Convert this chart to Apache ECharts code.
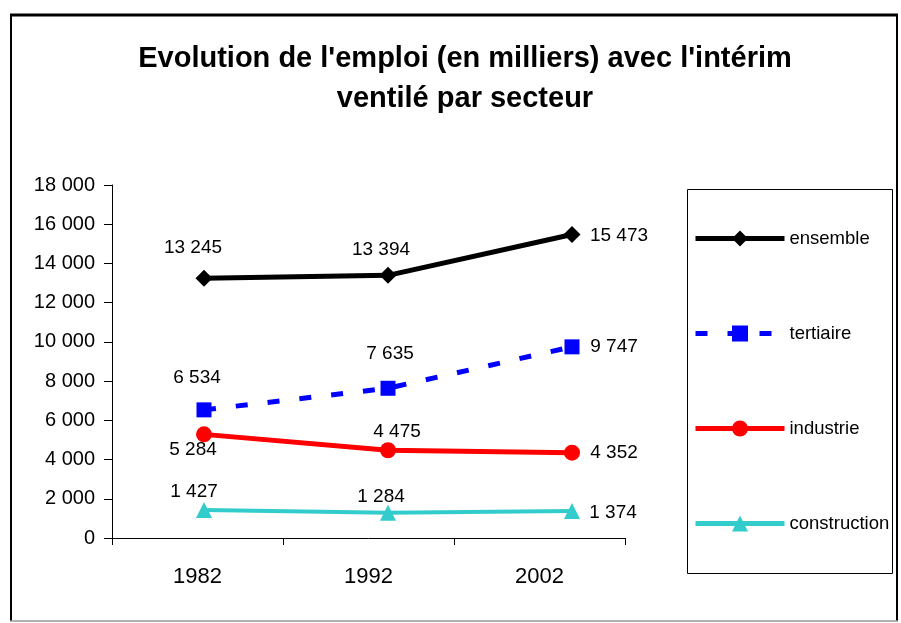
<!DOCTYPE html>
<html>
<head>
<meta charset="utf-8">
<script src="https://cdn.jsdelivr.net/npm/echarts@6/dist/echarts.min.js"></script>
<style>
html,body{margin:0;padding:0;background:#fff;}
#chart{width:901px;height:623px;}
</style>
</head>
<body>
<div id="chart"></div>
<script>
var categories = ['1982', '1992', '2002'];
var ensemble = [13245, 13394, 15473];
var tertiaire = [6534, 7635, 9747];
var industrie = [5284, 4475, 4352];
var construction = [1427, 1284, 1374];
var yTicks = [0, 2000, 4000, 6000, 8000, 10000, 12000, 14000, 16000, 18000];

var SANS = '"Liberation Sans", Arial, sans-serif';

function fmt(v) {
  return String(v).replace(/\B(?=(\d{3})+(?!\d))/g, ' ');
}

function withLabels(values, offsets) {
  return values.map(function (v, i) {
    return {
      value: v,
      label: { show: true, position: 'inside', offset: offsets[i] }
    };
  });
}

var labelStyle = {
  show: true,
  position: 'inside',
  fontFamily: SANS,
  fontSize: 19,
  color: '#000',
  formatter: function (p) { return fmt(p.value); }
};

var chart = echarts.init(document.getElementById('chart'), null, { renderer: 'canvas' });

var option = {
  backgroundColor: '#fff',
  animation: false,
  title: {
    text: "Evolution de l'emploi (en milliers) avec l'intérim\nventilé par secteur",
    left: 460,
    top: 34,
    textAlign: 'center',
    textStyle: {
      fontFamily: SANS,
      fontWeight: 'bold',
      fontSize: 29,
      lineHeight: 40,
      color: '#000'
    }
  },
  legend: {
    orient: 'vertical',
    left: 693,
    top: 229,
    padding: 0,
    itemWidth: 89,
    itemHeight: 20,
    itemGap: 76,
    itemTextGap: 2,
    textStyle: { fontFamily: SANS, fontSize: 18.5, color: '#000' },
    data: [
      { name: 'ensemble', lineStyle: { width: 5 } },
      { name: 'tertiaire', lineStyle: { width: 5 } },
      { name: 'industrie', lineStyle: { width: 5 } },
      { name: 'construction', lineStyle: { width: 5 } }
    ]
  },
  grid: [
    { left: 112, right: 276, top: 185, bottom: 85 },
    { left: 112, right: 237, top: 185, bottom: 85 }
  ],
  xAxis: [
    {
      gridIndex: 0,
      type: 'category',
      data: categories,
      boundaryGap: true,
      axisLine: { lineStyle: { color: '#000', width: 1 } },
      axisTick: { show: true, length: 7, inside: false, lineStyle: { color: '#000' } },
      axisLabel: { fontFamily: SANS, fontSize: 22, color: '#000', margin: 28 }
    },
    {
      gridIndex: 1,
      type: 'category',
      data: categories,
      boundaryGap: true,
      show: false
    }
  ],
  yAxis: [
    {
      gridIndex: 0,
      type: 'value',
      min: 0,
      max: 18000,
      interval: 2000,
      axisLine: { show: true, lineStyle: { color: '#000', width: 1 } },
      axisTick: { show: true, length: 8, lineStyle: { color: '#000' } },
      splitLine: { show: false },
      axisLabel: {
        fontFamily: SANS,
        fontSize: 20,
        color: '#000',
        margin: 17,
        formatter: function (v) { return fmt(v); }
      }
    },
    {
      gridIndex: 1,
      type: 'value',
      min: 0,
      max: 18000,
      interval: 2000,
      show: false,
      splitLine: { show: false }
    }
  ],
  series: [
    {
      name: 'ensemble',
      type: 'line',
      xAxisIndex: 1,
      yAxisIndex: 1,
      data: withLabels(ensemble, [[-11, -30], [-7, -26], [47, 1]]),
      symbol: 'diamond',
      symbolSize: 17,
      lineStyle: { color: '#000', width: 5 },
      itemStyle: { color: '#000' },
      label: labelStyle,
      z: 5
    },
    {
      name: 'tertiaire',
      type: 'line',
      xAxisIndex: 1,
      yAxisIndex: 1,
      data: withLabels(tertiaire, [[-7, -32], [2, -35], [42, 0]]),
      symbol: 'rect',
      symbolSize: 15,
      lineStyle: { color: '#0000FF', width: 5, type: [12, 20] },
      itemStyle: { color: '#0000FF' },
      label: labelStyle,
      z: 4
    },
    {
      name: 'industrie',
      type: 'line',
      xAxisIndex: 1,
      yAxisIndex: 1,
      data: withLabels(industrie, [[-11, 15], [9, -18], [42, 0]]),
      symbol: 'circle',
      symbolSize: 16,
      lineStyle: { color: '#FF0000', width: 5 },
      itemStyle: { color: '#FF0000' },
      label: labelStyle,
      z: 3
    },
    {
      name: 'construction',
      type: 'line',
      xAxisIndex: 1,
      yAxisIndex: 1,
      data: withLabels(construction, [[-10, -18], [-7, -16], [41, 2]]),
      symbol: 'triangle',
      symbolSize: 16,
      lineStyle: { color: '#33CCCC', width: 4 },
      itemStyle: { color: '#33CCCC' },
      label: labelStyle,
      z: 2
    }
  ],
  graphic: [
    { type: 'line', shape: { x1: 10, y1: 15, x2: 898, y2: 15 }, style: { stroke: '#000', lineWidth: 3 }, silent: true },
    { type: 'line', shape: { x1: 11, y1: 15, x2: 11, y2: 621 }, style: { stroke: '#000', lineWidth: 2 }, silent: true },
    { type: 'line', shape: { x1: 897, y1: 15, x2: 897, y2: 621 }, style: { stroke: '#000', lineWidth: 2 }, silent: true },
    { type: 'line', shape: { x1: 10, y1: 621, x2: 898, y2: 621 }, style: { stroke: '#999', lineWidth: 1.5 }, silent: true },
    { type: 'rect', shape: { x: 687.5, y: 189.5, width: 205, height: 384 }, style: { fill: 'none', stroke: '#000', lineWidth: 1 }, silent: true, z: -1 }
  ]
};

chart.setOption(option);
</script>
</body>
</html>
